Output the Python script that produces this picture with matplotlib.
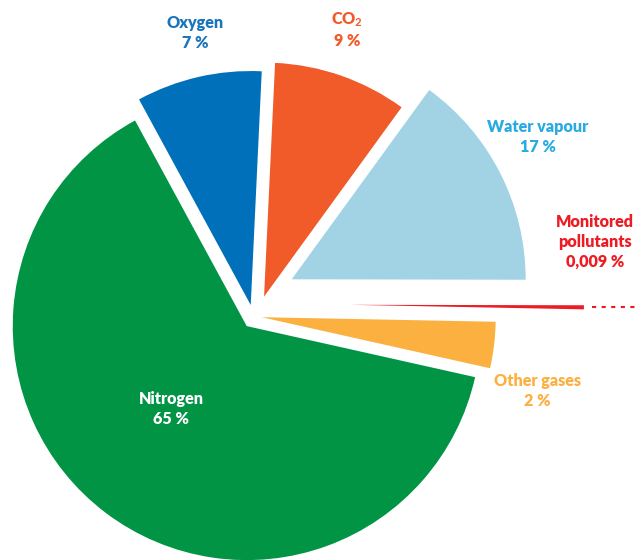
import numpy as np
import matplotlib
matplotlib.use("Agg")
import matplotlib.pyplot as plt

plt.rcParams['font.family'] = ['Lato', 'DejaVu Sans']
plt.rcParams['mathtext.fontset'] = 'custom'
plt.rcParams['mathtext.bf'] = 'Lato:bold'
plt.rcParams['mathtext.rm'] = 'Lato:bold'
plt.rcParams['mathtext.default'] = 'bf'

# pie order, counter-clockwise from the lower edge of "Other gases"
nombres = ["Other gases", "Monitored\npollutants", "Water vapour", "CO$_2$", "Oxygen", "Nitrogen"]
porcentajes = ["2 %", "0,009 %", "17 %", "9 %", "7 %", "65 %"]
# shares of the circle as drawn in the picture (the drawing is not to scale)
tamanos = [3.19, 0.28, 15.03, 9.25, 8.67, 63.58]

colores = ["#FBB040", "#ED1C24", "#A2D3E4", "#F15A29", "#0070BA", "#009444"]
colores_texto = ["#FBB040", "#ED1C24", "#29ABE2", "#F15A29", "#1B75BC", "white"]
# per-slice displacement of each wedge (radius units)
desplazamientos = [(0.033, -0.018), (0.410, 0.035), (0.161, 0.144),
                   (0.043, 0.070), (-0.014, 0.034), (-0.031, -0.056)]
# label centres in pixels (x from left, y from top)
pos_texto = [(537, 391), (595, 242), (538, 137), (347, 30), (195, 33), (171, 409)]

W, H = 636, 560
R = 234.0           # pie radius in pixels
cx, cy = 254, 313   # pie centre in pixels

fig = plt.figure(figsize=(W / 100, H / 100), dpi=100)
ax = fig.add_axes([0, 0, 1, 1])

cunas, _ = ax.pie(tamanos, colors=colores, startangle=-12.6, counterclock=True,
                  radius=1.0, wedgeprops=dict(linewidth=0))
for w, d in zip(cunas, desplazamientos):
    w.set_center(d)

# dashed continuation of the pollutants wedge
w = cunas[1]
medio = np.deg2rad((w.theta1 + w.theta2) / 2)
x0 = desplazamientos[1][0] + np.cos(medio) + 8 / R
y0 = desplazamientos[1][1] + np.sin(medio)
ax.plot([x0, (W - cx) / R], [y0, y0], color="#ED1C24", lw=1.5,
        linestyle=(0, (2, 2.6)), solid_capstyle='butt', dash_capstyle='butt')

ax.set_xlim(-cx / R, (W - cx) / R)
ax.set_ylim((cy - H) / R, cy / R)
ax.set_aspect('equal')
ax.axis('off')

for nombre, pct, col, (px, py) in zip(nombres, porcentajes, colores_texto, pos_texto):
    fig.text(px / W, 1 - py / H, nombre + "\n" + pct, color=col, fontsize=11.6,
             fontweight='heavy', ha='center', va='center', linespacing=1.3)

fig.savefig("out.png", dpi=100)
